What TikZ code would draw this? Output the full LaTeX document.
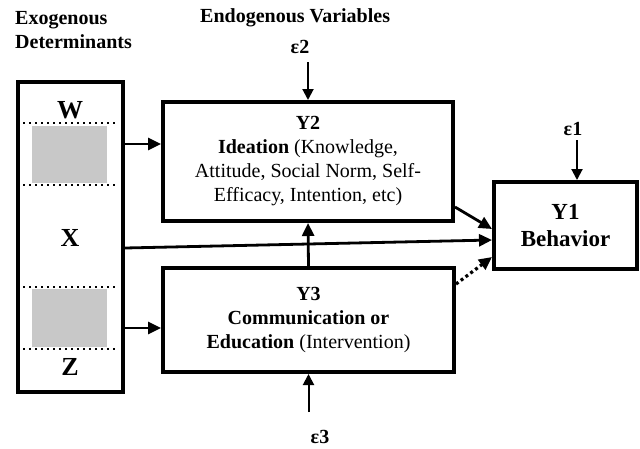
\documentclass[tikz,border=0pt]{standalone}
\usepackage{fontspec}
\setmainfont{Liberation Serif}
\usetikzlibrary{arrows.meta}
\definecolor{shade}{RGB}{200,200,200}
\begin{document}
\begin{tikzpicture}[x=1pt,y=-1pt,
  font=\fontsize{20}{24}\selectfont,
  box/.style={draw, line width=4pt, inner sep=0pt, align=center},
  lbl/.style={font=\fontsize{20}{24}\selectfont\bfseries, inner sep=0pt},
  big/.style={font=\fontsize{26}{30}\selectfont\bfseries, inner sep=0pt},
  arr/.style={line width=2.8pt, -{Triangle[length=13pt,width=12pt]}},
  earr/.style={line width=2pt, -{Triangle[length=11pt,width=11pt]}},
  dots/.style={line width=2.6pt, dash pattern=on 2.4pt off 3.6pt},
  dotarr/.style={line width=3.2pt, dash pattern=on 3pt off 3pt, -{Triangle[length=13pt,width=12pt]}}]
\useasboundingbox (0,0) rectangle (640,448);

% headers
\node[lbl, anchor=west, align=left] (hex) at (15,30) {Exogenous\\Determinants};
\node[lbl, anchor=west] (hen) at (200,18) {Endogenous Variables};

% exogenous box
\node[box, minimum width=105pt, minimum height=310pt] (exo) at (70.5,237) {};
\node[fill=shade, minimum width=75pt, minimum height=57pt, inner sep=0pt] (g1) at (69.5,154.5) {};
\node[fill=shade, minimum width=75pt, minimum height=58pt, inner sep=0pt] (g2) at (69.5,318) {};
\draw[dots] (23,123) -- (118,123);
\draw[dots] (23,185) -- (118,185);
\draw[dots] (23,287) -- (118,287);
\draw[dots] (23,349) -- (118,349);
\node[big] (W) at (70,110) {W};
\node[big] (X) at (70,238) {X};
\node[big] (Z) at (70,367) {Z};

% endogenous boxes
\node[box, minimum width=290pt, minimum height=119pt] (y2) at (308,161.5)
  {\textbf{Y2}\\\textbf{Ideation} (Knowledge,\\Attitude, Social Norm, Self-\\Efficacy, Intention, etc)};
\node[box, minimum width=291pt, minimum height=104pt] (y3) at (308.5,320)
  {\textbf{Y3}\\\textbf{Communication or}\\\textbf{Education} (Intervention)};
\node[box, minimum width=143pt, minimum height=87pt, font=\fontsize{23}{27}\selectfont] (y1) at (565.5,225.5)
  {\textbf{Y1}\\\textbf{Behavior}};

% error terms
\node[lbl] (e2) at (300,47) {ε2};
\node[lbl] (e1) at (573,129) {ε1};
\node[lbl] (e3) at (320,437) {ε3};
\coordinate (e2s) at (308,62);
\coordinate (e1s) at (577,140);
\coordinate (e3s) at (308.5,412);
\draw[earr] (e2s) -- (e2s |- y2.north);
\draw[earr] (e1s) -- (e1s |- y1.north);
\draw[earr] (e3s) -- (e3s |- y3.south);

% connectors
\coordinate (pW) at (123,144);
\coordinate (pZ) at (123,328);
\coordinate (pX0) at (123,248);
\coordinate (pX1) at (494,240);
\coordinate (p21a) at (453,207);
\coordinate (p21b) at (494,229);
\coordinate (p31a) at (454,284);
\coordinate (p31b) at (494,257);
\draw[arr] (exo.east |- pW) -- (y2.west |- pW);
\draw[arr] (exo.east |- pZ) -- (y3.west |- pZ);
\draw[arr] (exo.east |- pX0) -- (y1.west |- pX1);
\draw[arr] (y2.east |- p21a) -- (y1.west |- p21b);
\draw[dotarr] (y3.east |- p31a) -- (y1.west |- p31b);
\draw[arr] (y3.north) -- (y2.south);
\end{tikzpicture}
\end{document}
